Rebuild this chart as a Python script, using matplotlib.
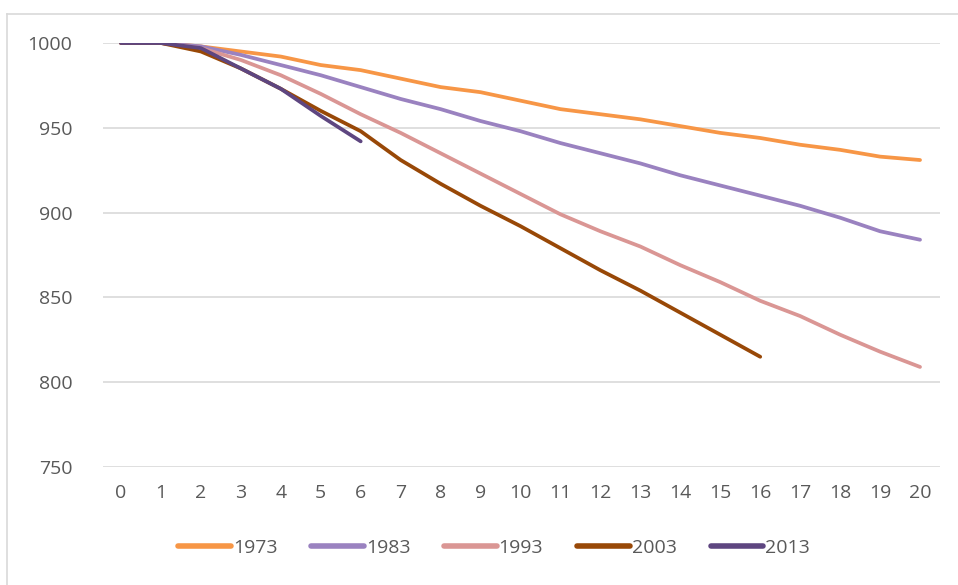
import matplotlib
matplotlib.use("Agg")
import matplotlib.pyplot as plt
from matplotlib.lines import Line2D

plt.rcParams["font.family"] = ["Open Sans", "DejaVu Sans"]

# ── Data ────────────────────────────────────────────────────────────
years_1973 = list(range(0, 21))
vals_1973 = [1000, 1000, 998, 995, 992, 987, 984, 979, 974, 971, 966,
             961, 958, 955, 951, 947, 944, 940, 937, 933, 931]

years_1983 = list(range(0, 21))
vals_1983 = [1000, 1000, 998, 993, 987, 981, 974, 967, 961, 954, 948,
             941, 935, 929, 922, 916, 910, 904, 897, 889, 884]

years_1993 = list(range(0, 21))
vals_1993 = [1000, 1000, 997, 990, 981, 970, 958, 947, 935, 923, 911,
             899, 889, 880, 869, 859, 848, 839, 828, 818, 809]

years_2003 = list(range(0, 17))
vals_2003 = [1000, 1000, 995, 985, 973, 960, 948, 931, 917, 904, 892,
             879, 866, 854, 841, 828, 815]

years_2013 = list(range(0, 7))
vals_2013 = [1000, 1000, 997, 985, 973, 957, 942]

series = [
    ("1973", years_1973, vals_1973, "#F79646"),
    ("1983", years_1983, vals_1983, "#9A82C0"),
    ("1993", years_1993, vals_1993, "#DA9694"),
    ("2003", years_2003, vals_2003, "#984807"),
    ("2013", years_2013, vals_2013, "#5E4680"),
]

x_ticks = list(range(0, 21))
y_ticks = [750, 800, 850, 900, 950, 1000]

# ── Figure ──────────────────────────────────────────────────────────
W, H = 958, 585
fig = plt.figure(figsize=(W / 100, H / 100), dpi=100)
fig.patch.set_facecolor("white")

ax = fig.add_axes([103 / W, 1 - 467 / H, (940 - 103) / W, (467 - 43) / H])

for label, xs, ys, color in series:
    ax.plot(xs, ys, color=color, linewidth=2.7, label=label,
            solid_capstyle="round", solid_joinstyle="round", zorder=3)

ax.set_xlim(-0.45, 20.5)
ax.set_ylim(750, 1000)
ax.set_xticks(x_ticks)
ax.set_yticks(y_ticks)
ax.grid(axis="y", color="#D9D9D9", linewidth=1.2, zorder=0)
ax.grid(axis="x", visible=False)
for s in ax.spines.values():
    s.set_visible(False)
ax.tick_params(axis="both", length=0, labelsize=14, labelcolor="#595959")
ax.tick_params(axis="y", pad=22)
ax.tick_params(axis="x", pad=12)

handles = [Line2D([], [], color=c, linewidth=4, solid_capstyle="round")
           for _, _, _, c in series]
fig.legend(handles, [s[0] for s in series], loc="center",
           bbox_to_anchor=(494 / W, 1 - 548 / H), ncol=5, frameon=False,
           fontsize=14, labelcolor="#595959", handlelength=2.7,
           handletextpad=0.1, columnspacing=1.75)

# outer chart border (top and left edges visible in the crop)
fig.add_artist(Line2D([7 / W, 1], [1 - 13.5 / H, 1 - 13.5 / H],
                      color="#D9D9D9", linewidth=1.2, transform=fig.transFigure))
fig.add_artist(Line2D([7 / W, 7 / W], [0, 1 - 13.5 / H],
                      color="#D9D9D9", linewidth=1.2, transform=fig.transFigure))

fig.savefig("out.png", dpi=100)
